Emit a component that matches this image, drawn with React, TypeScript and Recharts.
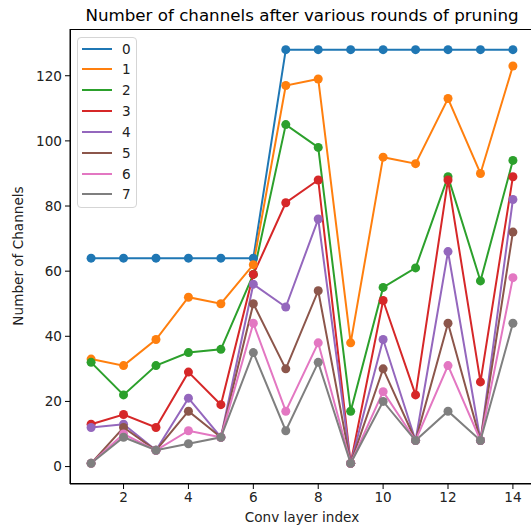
import React from 'react';
import { LineChart, Line, XAxis, YAxis } from 'recharts';

const layers = [1, 2, 3, 4, 5, 6, 7, 8, 9, 10, 11, 12, 13, 14];
const round0 = [64, 64, 64, 64, 64, 64, 128, 128, 128, 128, 128, 128, 128, 128];
const round1 = [33, 31, 39, 52, 50, 62, 117, 119, 38, 95, 93, 113, 90, 123];
const round2 = [32, 22, 31, 35, 36, 59, 105, 98, 17, 55, 61, 89, 57, 94];
const round3 = [13, 16, 12, 29, 19, 59, 81, 88, 1, 51, 22, 88, 26, 89];
const round4 = [12, 13, 5, 21, 9, 56, 49, 76, 1, 39, 8, 66, 8, 82];
const round5 = [1, 12, 5, 17, 9, 50, 30, 54, 1, 30, 8, 44, 8, 72];
const round6 = [1, 10, 5, 11, 9, 44, 17, 38, 1, 23, 8, 31, 8, 58];
const round7 = [1, 9, 5, 7, 9, 35, 11, 32, 1, 20, 8, 17, 8, 44];

const seriesNames = ['0', '1', '2', '3', '4', '5', '6', '7'];
const seriesValues = [round0, round1, round2, round3, round4, round5, round6, round7];
const colors = ['#1f77b4', '#ff7f0e', '#2ca02c', '#d62728', '#9467bd', '#8c564b', '#e377c2', '#7f7f7f'];
const xTicks = [2, 4, 6, 8, 10, 12, 14];
const yTicks = [0, 20, 40, 60, 80, 100, 120];

const title = 'Number of channels after various rounds of pruning';
const xLabel = 'Conv layer index';
const yLabel = 'Number of Channels';

const data = layers.map((x, i) => {
  const row: Record<string, number> = { x };
  seriesNames.forEach((n, k) => {
    row['s' + n] = seriesValues[k][i];
  });
  return row;
});

const FONT = '"DejaVu Sans", sans-serif';
const TICK = 13.6;

export default function App() {
  return (
    <div
      style={{
        position: 'absolute',
        left: 0,
        top: 0,
        width: 531,
        height: 531,
        overflow: 'hidden',
        background: '#fff',
        fontFamily: FONT,
      }}
    >
      <LineChart
        width={540}
        height={531}
        data={data}
        margin={{ top: 29, right: 6, bottom: 0, left: 0 }}
      >
        <XAxis
          dataKey="x"
          type="number"
          domain={[0.35, 14.65]}
          ticks={xTicks}
          allowDataOverflow
          height={47}
          tickSize={5}
          tickMargin={3}
          stroke="#000"
          tick={{ fill: '#222', fontSize: TICK, fontFamily: FONT }}
        />
        <YAxis
          type="number"
          domain={[-5.35, 134.35]}
          ticks={yTicks}
          allowDataOverflow
          width={70}
          tickSize={5}
          tickMargin={3}
          stroke="#000"
          tick={{ fill: '#222', fontSize: TICK, fontFamily: FONT }}
        />
        {seriesNames.map((n, k) => (
          <Line
            key={n}
            dataKey={'s' + n}
            name={n}
            type="linear"
            stroke={colors[k]}
            strokeWidth={2}
            dot={{ r: 4.5, fill: colors[k], stroke: colors[k], strokeWidth: 0 }}
            activeDot={false}
            isAnimationActive={false}
          />
        ))}
      </LineChart>
      <div
        style={{
          position: 'absolute',
          left: 70,
          top: 29,
          width: 464,
          height: 455,
          border: '1px solid #000',
          borderRight: 'none',
          boxSizing: 'border-box',
          pointerEvents: 'none',
        }}
      />
      <div
        style={{
          position: 'absolute',
          left: 77,
          top: 37,
          width: 60,
          height: 171,
          boxSizing: 'border-box',
          border: '1px solid #d5d5d5',
          borderRadius: 4,
          background: 'rgba(255,255,255,0.8)',
          fontSize: TICK,
          color: '#222',
        }}
      >
        {seriesNames.map((n, k) => (
          <div
            key={n}
            style={{
              position: 'absolute',
              left: 4,
              top: 0.5 + k * 20.85,
              height: 20,
              display: 'flex',
              alignItems: 'center',
            }}
          >
            <div style={{ width: 30, height: 2, background: colors[k], marginRight: 10 }} />
            <span>{n}</span>
          </div>
        ))}
      </div>
      <div
        style={{
          position: 'absolute',
          left: 70,
          width: 464,
          top: 5,
          textAlign: 'center',
          fontSize: 16.7,
          color: '#000',
          whiteSpace: 'nowrap',
        }}
      >
        {title}
      </div>
      <div
        style={{
          position: 'absolute',
          left: 70,
          width: 464,
          top: 509,
          textAlign: 'center',
          fontSize: TICK,
          color: '#222',
          whiteSpace: 'nowrap',
        }}
      >
        {xLabel}
      </div>
      <div
        style={{
          position: 'absolute',
          left: 18,
          top: 256,
          transform: 'translate(-50%, -50%) rotate(-90deg)',
          fontSize: TICK,
          color: '#222',
          whiteSpace: 'nowrap',
        }}
      >
        {yLabel}
      </div>
    </div>
  );
}
